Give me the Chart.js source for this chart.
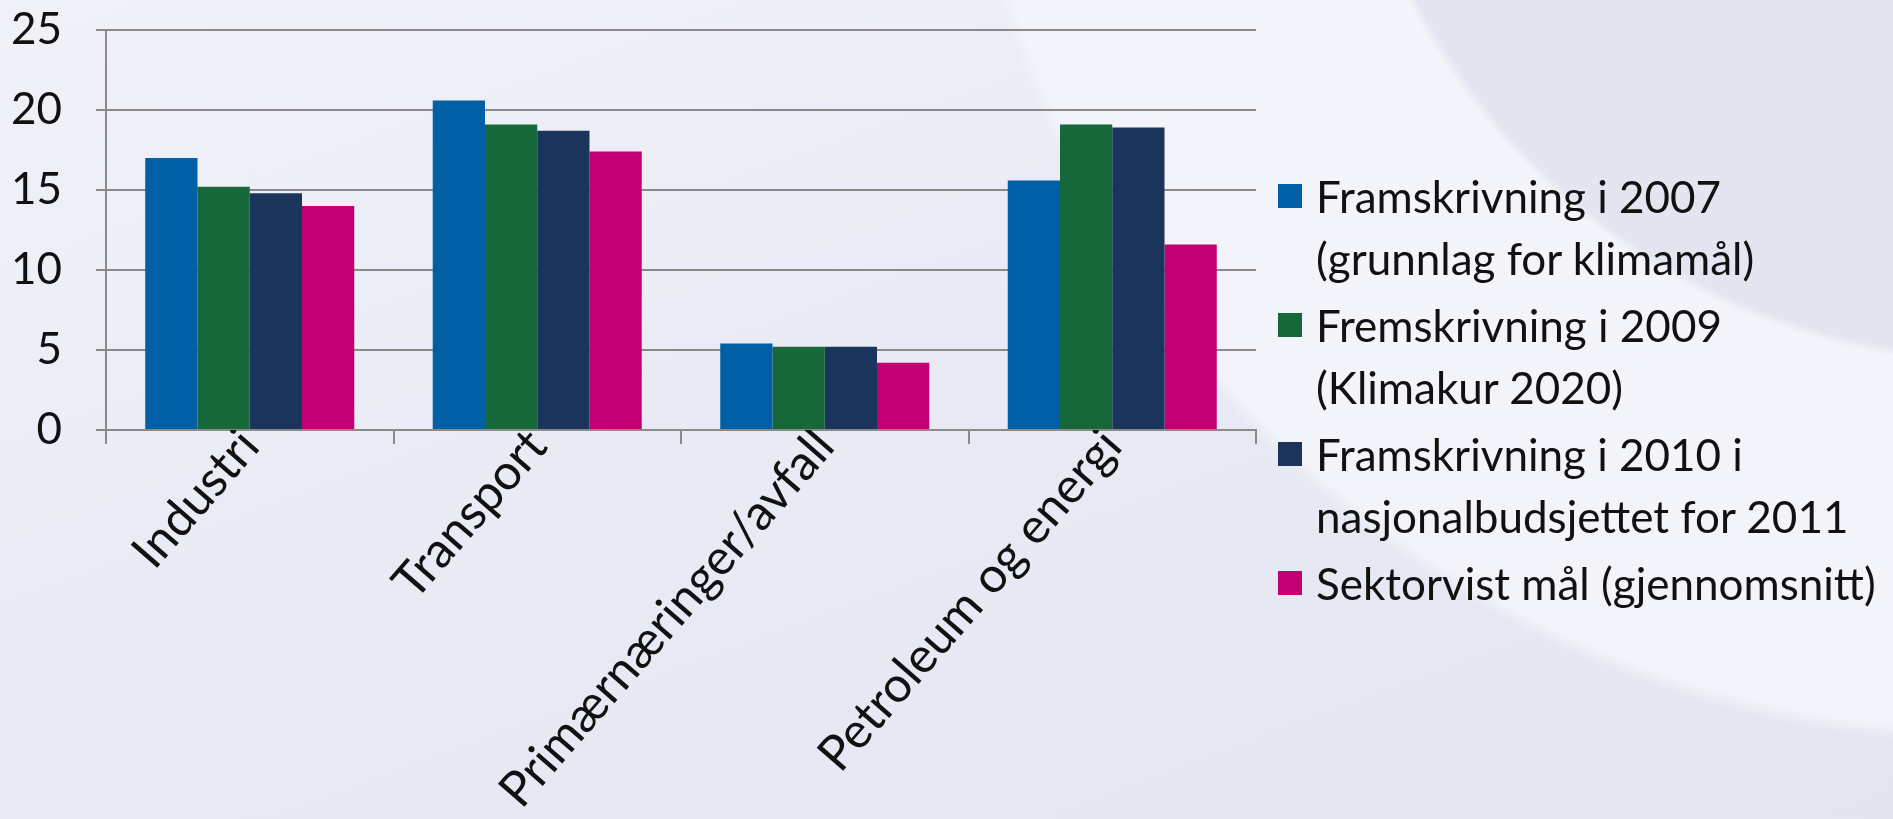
<!DOCTYPE html>
<html>
<head>
<meta charset="utf-8">
<script src="https://cdn.jsdelivr.net/npm/chart.js@4.4.1/dist/chart.umd.min.js"></script>
<style>
html,body{margin:0;padding:0;width:1893px;height:819px;overflow:hidden}
body{
  background:
    radial-gradient(circle at 2000px -300px, #e3e6f1 0, #e3e6f1 655px, #f4f5fa 665px, #f3f4f9 1030px, rgba(243,244,249,0) 1045px),
    linear-gradient(160deg, #f1f2f8 0%, #e8eaf4 50%, #e3e6f1 100%);
  font-family:Lato,"Noto Sans",sans-serif;
}
#wrap{position:absolute;left:0;top:0;width:1893px;height:819px}
#legend{position:absolute;left:1278px;top:165px;margin:0;padding:0;list-style:none;color:#111}
#legend li{position:relative;padding-left:38px;font-size:44px;line-height:62px;margin-bottom:5px}
#legend li span.box{position:absolute;left:0;top:19px;width:24px;height:24px}
</style>
</head>
<body>
<div id="wrap"><canvas id="chart" width="1893" height="819"></canvas></div>
<ul id="legend"></ul>
<script>
// --------- данные ---------
const categories=['Industri','Transport','Primærnæringer/avfall','Petroleum og energi'];
const seriesNames=[
  ['Framskrivning i 2007','(grunnlag for klimamål)'],
  ['Fremskrivning i 2009','(Klimakur 2020)'],
  ['Framskrivning i 2010 i','nasjonalbudsjettet for 2011'],
  ['Sektorvist mål (gjennomsnitt)']
];
const fram2007=[17.0,20.6,5.4,15.6];
const frem2009=[15.2,19.1,5.2,19.1];
const fram2010=[14.8,18.7,5.2,18.9];
const sektormal=[14.0,17.4,4.2,11.6];
const yTicks=[0,5,10,15,20,25];
const colors=['#005fa5','#16673a','#1b345c','#c20074'];

const values=[fram2007,frem2009,fram2010,sektormal];
const gridCol='#8a8a8a';

const chart=new Chart(document.getElementById('chart'),{
  type:'bar',
  data:{
    labels:categories,
    datasets:values.map((v,i)=>({
      label:seriesNames[i].join(' '),
      data:v,
      backgroundColor:colors[i],
      borderWidth:0,
      categoryPercentage:0.727,
      barPercentage:1
    }))
  },
  options:{
    responsive:false,
    animation:false,
    events:[],
    layout:{padding:{left:0,top:30,right:637,bottom:0}},
    plugins:{legend:{display:false},tooltip:{enabled:false}},
    scales:{
      x:{
        grid:{display:true,drawOnChartArea:false,drawTicks:true,tickLength:14,color:gridCol,lineWidth:2,offset:true},
        border:{display:true,color:gridCol,width:2},
        ticks:{
          color:'#111',autoSkip:false,minRotation:49,maxRotation:49,padding:-26,
          font:{family:'Lato, "Noto Sans", sans-serif',size:49}
        },
        afterFit:s=>{s.height=389}
      },
      y:{
        min:0,max:25,
        afterBuildTicks:s=>{s.ticks=yTicks.map(v=>({value:v}))},
        // длинный тик, видна только часть 10px у оси
        grid:{color:gridCol,lineWidth:2,tickLength:44,drawTicks:true,tickBorderDash:[0,34,10,0]},
        border:{display:true,color:gridCol,width:2},
        ticks:{
          color:'#111',padding:0,
          font:{family:'Lato, "Noto Sans", sans-serif',size:44}
        },
        afterFit:s=>{s.width=106}
      }
    }
  }
});

// --------- легенда ---------
const leg=document.getElementById('legend');
seriesNames.forEach((lines,i)=>{
  const li=document.createElement('li');
  const b=document.createElement('span');
  b.className='box';b.style.background=colors[i];
  li.appendChild(b);
  lines.forEach((t,k)=>{
    if(k)li.appendChild(document.createElement('br'));
    li.appendChild(document.createTextNode(t));
  });
  leg.appendChild(li);
});
</script>
</body>
</html>
